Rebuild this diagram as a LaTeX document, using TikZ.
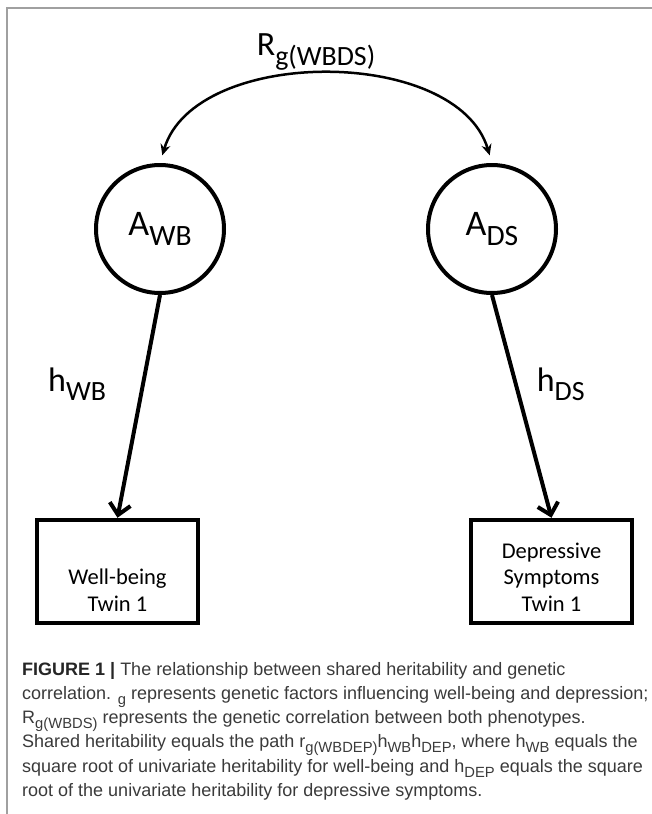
\documentclass[tikz,border=0pt]{standalone}
\usepackage{fontspec}
\setmainfont{Carlito}
\newfontfamily\capfont{Liberation Sans}
\usetikzlibrary{positioning, arrows.meta, shapes}

\newcommand{\dn}[1]{\raisebox{-0.28em}{\scalebox{0.82}{#1}}}

\definecolor{framegray}{HTML}{A0A0A0}
\definecolor{captext}{HTML}{3A3A3A}

\tikzset{
  factor/.style={draw, circle, line width=4pt, minimum size=128pt, inner sep=0pt, font=\fontsize{36}{42}\selectfont},
  pheno/.style={draw, rectangle, line width=4.5pt, minimum width=161pt, minimum height=103pt, inner sep=0pt},
  phenotext/.style={align=center, inner sep=0pt, font=\fontsize{22.5}{26.5}\selectfont},
  heritarrow/.style={line width=4pt, -{Straight Barb[length=11pt,width=21pt]}},
  corr/.style={line width=2.5pt, {Stealth[length=11pt,width=10pt]}-{Stealth[length=11pt,width=10pt]}, shorten <=8pt, shorten >=8pt},
  lbl/.style={inner sep=0pt, font=\fontsize{34}{40}\selectfont},
}

\begin{document}
\begin{tikzpicture}[x=1pt, y=-1pt]
    \useasboundingbox (0,0) rectangle (652,814);
    \draw[framegray, line width=2pt] (7,814) -- (7,8) -- (652,8);

    % genetic factors
    \node[factor] (AWB) at (160,229) {A\dn{WB}};
    \node[factor, right=200pt of AWB] (ADS) {A\dn{DS}};
    \node[lbl] (Rg) at (316,52) {R\dn{g(WBDS)}};

    % phenotypes
    \node[pheno] (WB) at (117.5,571.5) {};
    \node[pheno] (DS) at (551.5,571.5) {};
    \node[phenotext, yshift=-18.5pt] (WBtxt) at (WB) {Well-being\\Twin 1};
    \node[phenotext, yshift=-5.5pt] (DStxt) at (DS) {Depressive\\Symptoms\\Twin 1};

    \draw[corr] (AWB.north) .. controls +(35,-117) and +(-35,-117) .. (ADS.north);
    \draw[heritarrow] (AWB.south) -- (WB.north) node[lbl, pos=0.4, left=35pt] (hWB) {h\dn{WB}};
    \draw[heritarrow] (ADS.south) -- (DS.north) node[lbl, pos=0.4, right=19pt] (hDS) {h\dn{DS}};

    \node[anchor=north west, inner sep=0pt, align=left, text=captext, font=\capfont\fontsize{18}{24.2}\selectfont] (caption) at (22,662) {%
        {\color{black!85}\textbf{FIGURE 1 |}} The relationship between shared heritability and genetic\\
        correlation. \dn{g} represents genetic factors influencing well-being and depression;\\
        R\dn{g(WBDS)} represents the genetic correlation between both phenotypes.\\
        Shared heritability equals the path r\dn{g(WBDEP)}h\dn{WB}h\dn{DEP}, where h\dn{WB} equals the\\
        square root of univariate heritability for well-being and h\dn{DEP} equals the square\\
        root of the univariate heritability for depressive symptoms.};
\end{tikzpicture}
\end{document}
